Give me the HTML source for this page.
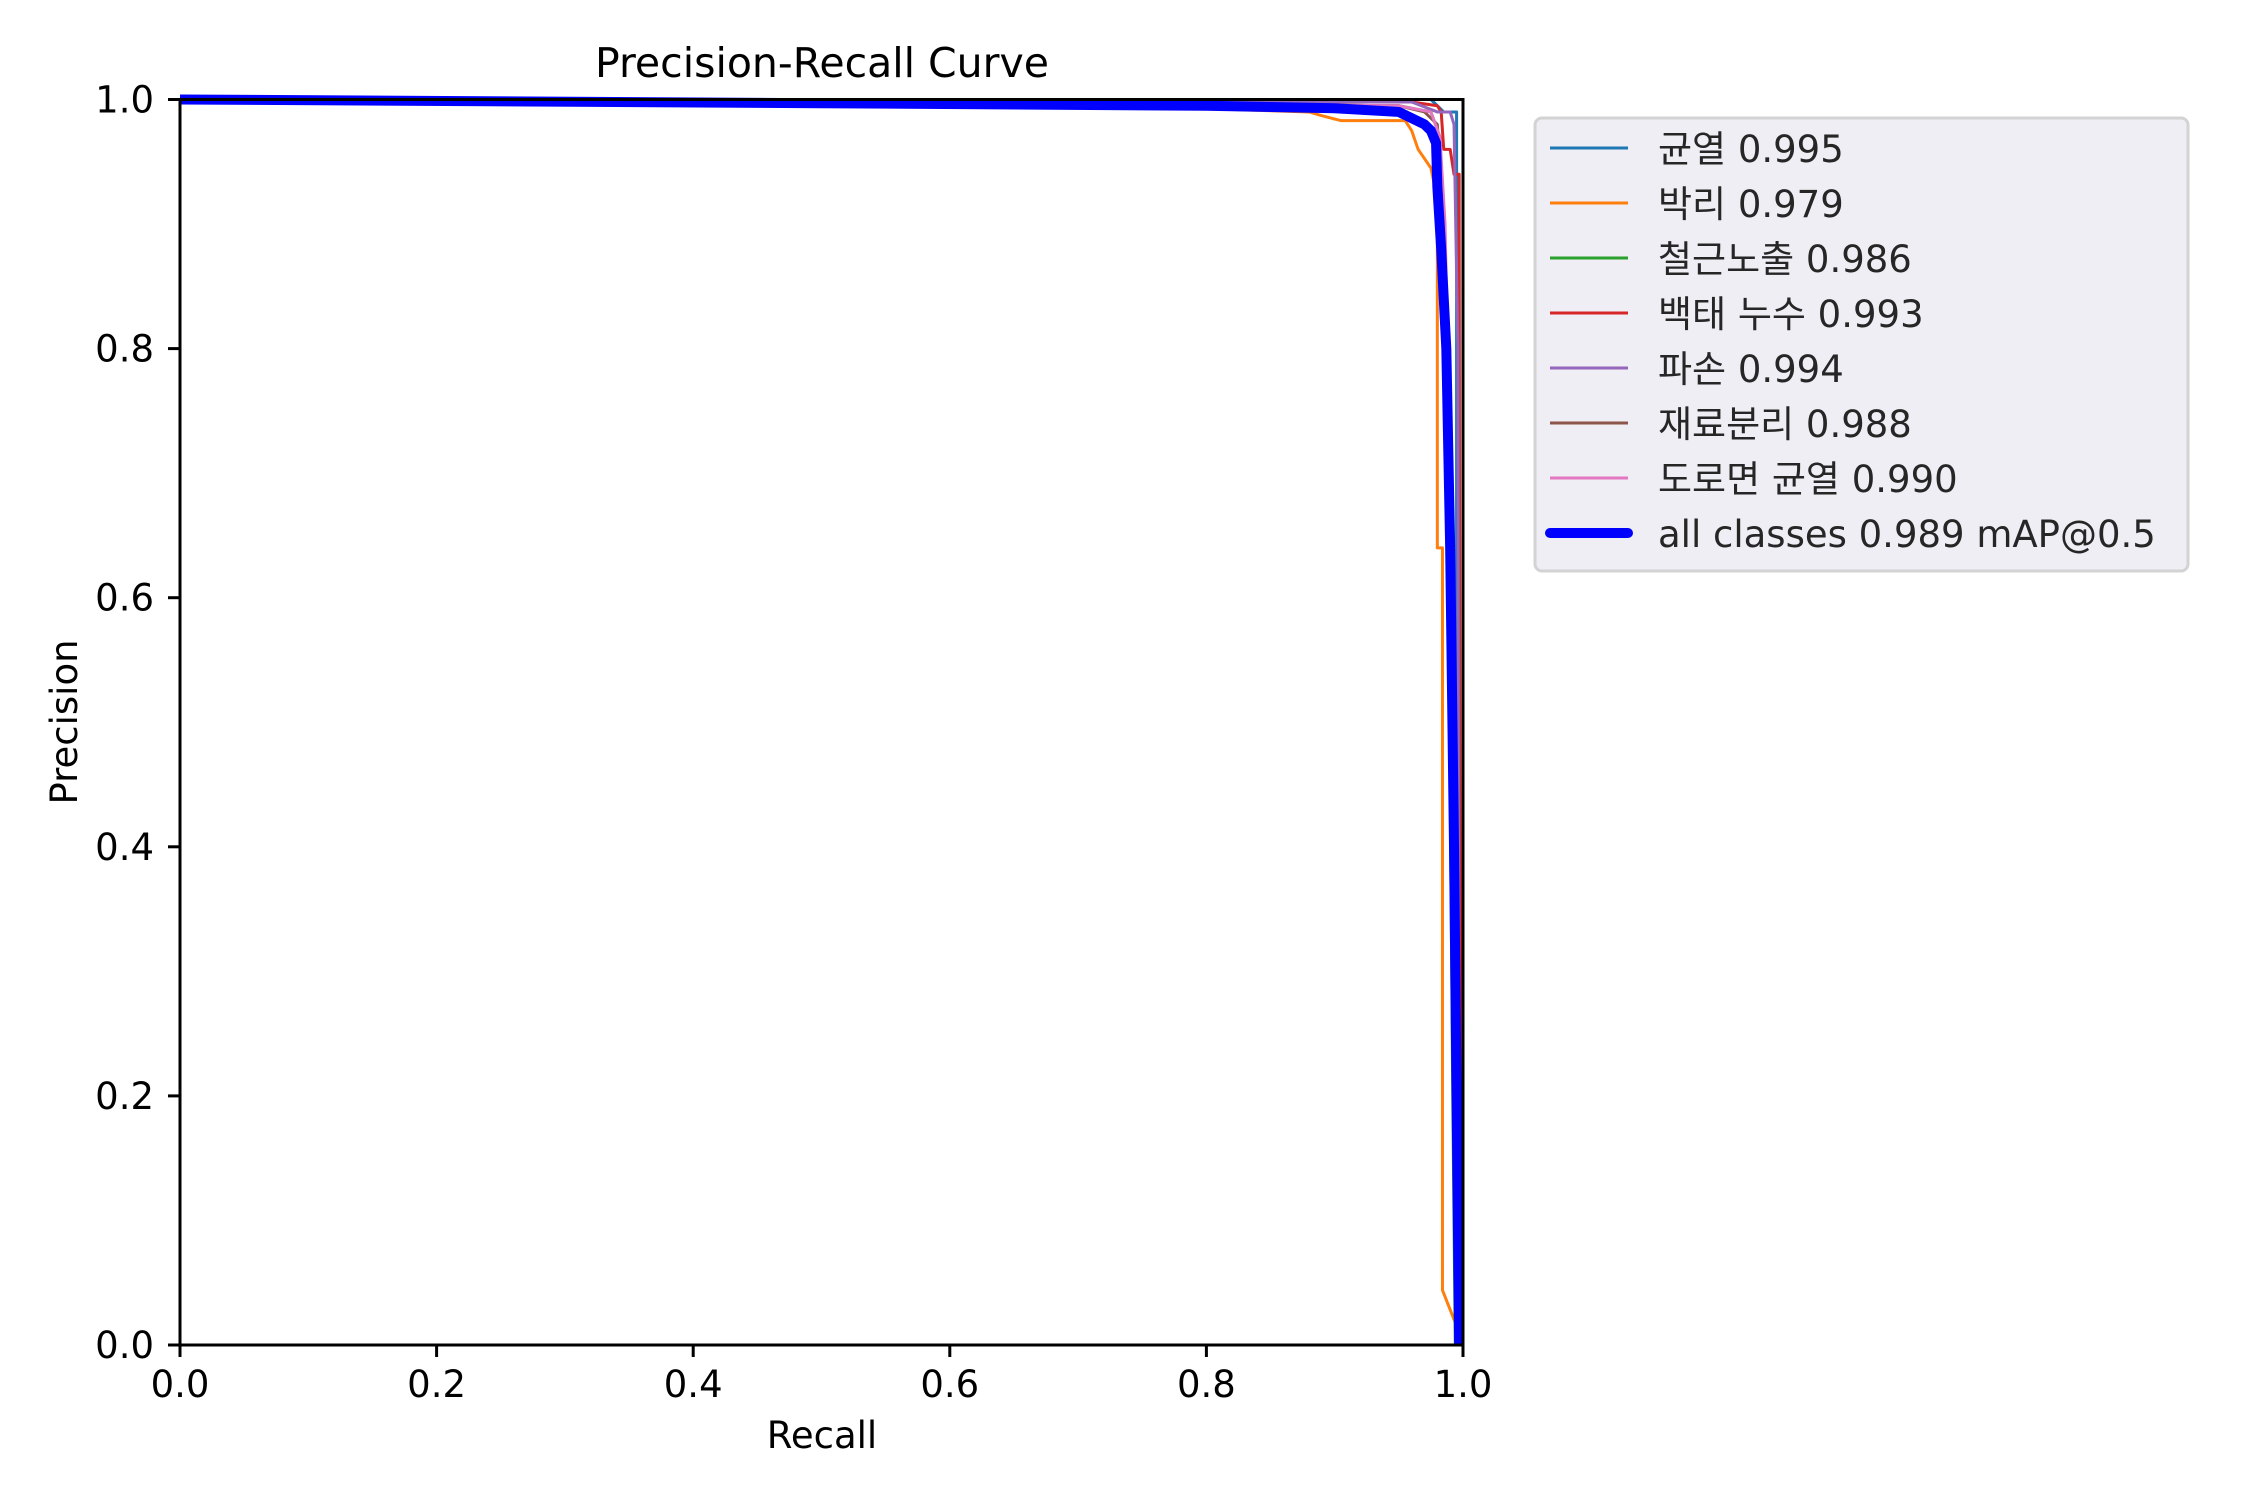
<!DOCTYPE html>
<html><head><meta charset="utf-8"><title>Precision-Recall Curve</title>
<style>
html,body{margin:0;padding:0;background:#fff;}
svg{display:block;font-family:"DejaVu Sans","Liberation Sans","Noto Sans CJK KR",sans-serif;}
</style></head>
<body>
<svg id="chart" width="2250" height="1500" viewBox="0 0 2250 1500" xmlns="http://www.w3.org/2000/svg">
<rect x="0" y="0" width="2250" height="1500" fill="#fff"/>
<g id="series"></g>
<g id="axes"></g>
<text x="822" y="77" font-size="41" text-anchor="middle" fill="#000">Precision-Recall Curve</text>
<text x="822" y="1448" font-size="37" text-anchor="middle" fill="#000">Recall</text>
<text transform="translate(77,722) rotate(-90)" font-size="37" text-anchor="middle" fill="#000">Precision</text>
<g id="legend"></g>
</svg>
<script>
const tickValues = [0, 0.2, 0.4, 0.6, 0.8, 1.0];
const tickLabels = ["0.0", "0.2", "0.4", "0.6", "0.8", "1.0"];
const seriesNames = ["균열 0.995", "박리 0.979", "철근노출 0.986", "백태 누수 0.993", "파손 0.994", "재료분리 0.988", "도로면 균열 0.990", "all classes 0.989 mAP@0.5"];
const seriesColors = ["#1f77b4", "#ff7f0e", "#2ca02c", "#d62728", "#9467bd", "#8c564b", "#e377c2", "#0000ff"];
const recall0 = [0, 0.5, 0.975, 0.985, 0.995, 0.995, 0.996];
const precision0 = [1, 1, 1, 0.99, 0.99, 0.5, 0];
const recall1 = [0, 0.79, 0.79, 0.88, 0.89, 0.905, 0.955, 0.96, 0.965, 0.975, 0.978, 0.98, 0.98, 0.984, 0.984, 0.997];
const precision1 = [1, 0.998, 0.993, 0.99, 0.987, 0.983, 0.983, 0.975, 0.96, 0.945, 0.93, 0.92, 0.64, 0.64, 0.044, 0.01];
const recall2 = [0, 0.6, 0.95, 0.975, 0.982, 0.985, 0.988, 0.992, 0.994];
const precision2 = [1, 0.998, 0.995, 0.99, 0.97, 0.9, 0.7, 0.2, 0];
const recall3 = [0, 0.96, 0.98, 0.983, 0.985, 0.99, 0.993, 0.997, 0.998];
const precision3 = [1, 0.998, 0.995, 0.99, 0.96, 0.96, 0.94, 0.94, 0];
const recall4 = [0, 0.96, 0.98, 0.99, 0.993, 0.996, 0.997];
const precision4 = [1, 0.998, 0.99, 0.99, 0.98, 0.8, 0];
const recall5 = [0, 0.6, 0.95, 0.97, 0.98, 0.985, 0.99, 0.994, 0.995];
const precision5 = [1, 0.998, 0.995, 0.99, 0.98, 0.9, 0.6, 0.1, 0];
const recall6 = [0, 0.6, 0.95, 0.975, 0.982, 0.986, 0.99, 0.994, 0.996];
const precision6 = [1, 0.998, 0.995, 0.99, 0.97, 0.9, 0.7, 0.2, 0];
const recall7 = [0, 0.5, 0.8, 0.9, 0.95, 0.97, 0.975, 0.979, 0.98, 0.983, 0.987, 0.99, 0.993, 0.995, 0.997];
const precision7 = [1, 0.997, 0.995, 0.993, 0.99, 0.98, 0.975, 0.965, 0.93, 0.88, 0.8, 0.64, 0.4, 0.2, 0];

const allRecall = [recall0, recall1, recall2, recall3, recall4, recall5, recall6, recall7];
const allPrecision = [precision0, precision1, precision2, precision3, precision4, precision5, precision6, precision7];

const NS = "http://www.w3.org/2000/svg";
const X0 = 180, X1 = 1463, Y0 = 1345, Y1 = 99.5;
function xScale(v){ return X0 + (X1 - X0) * v; }
function yScale(v){ return Y0 - (Y0 - Y1) * v; }
function mk(tag, attrs){ const e = document.createElementNS(NS, tag); for (const k in attrs) e.setAttribute(k, attrs[k]); return e; }

const seriesG = document.getElementById('series');
for (let i = 0; i < allRecall.length; i++) {
  const pts = allRecall[i].map((r, j) => xScale(r).toFixed(2) + ',' + yScale(allPrecision[i][j]).toFixed(2)).join(' ');
  const pl = mk('polyline', {points: pts, fill: 'none', stroke: seriesColors[i], 'stroke-width': i === 7 ? 10 : 3, 'stroke-linejoin': 'round'});
  
  
  seriesG.appendChild(pl);
}

const axesG = document.getElementById('axes');
const frame = mk('rect', {x: X0, y: Y1, width: X1 - X0, height: Y0 - Y1, fill: 'none', stroke: '#000', 'stroke-width': 3});


axesG.appendChild(frame);
for (let i = 0; i < tickValues.length; i++) {
  const xv = xScale(tickValues[i]);
  const xt = mk('line', {x1: xv, x2: xv, y1: Y0, y2: Y0 + 12, stroke: '#000', 'stroke-width': 3});
  
  
  axesG.appendChild(xt);
  const xl = mk('text', {x: xv, y: 1397, 'font-size': 37, 'text-anchor': 'middle', fill: '#000'});
  xl.textContent = tickLabels[i];
  
  
  axesG.appendChild(xl);
  const yv = yScale(tickValues[i]);
  const yt = mk('line', {x1: X0 - 12, x2: X0, y1: yv, y2: yv, stroke: '#000', 'stroke-width': 3});
  
  
  axesG.appendChild(yt);
  const yl = mk('text', {x: 154, y: yv + 13, 'font-size': 37, 'text-anchor': 'end', fill: '#000'});
  yl.textContent = tickLabels[i];
  
  
  axesG.appendChild(yl);
}

const legG = document.getElementById('legend');
const box = mk('rect', {x: 1535, y: 118, width: 653, height: 453, rx: 7, fill: '#eeeef4', stroke: '#d3d3d3', 'stroke-width': 3});


legG.appendChild(box);
for (let i = 0; i < seriesNames.length; i++) {
  const y = 148 + 55 * i;
  const ln = mk('line', {x1: 1550, x2: 1628, y1: y, y2: y, stroke: seriesColors[i], 'stroke-width': i === 7 ? 10 : 3, 'stroke-linecap': i === 7 ? 'round' : 'butt'});
  
  
  legG.appendChild(ln);
  const t = mk('text', {x: 1658, y: y + 14, 'font-size': 37, fill: '#262626'});
  t.textContent = seriesNames[i];
  
  
  legG.appendChild(t);
}
</script>
</body></html>
